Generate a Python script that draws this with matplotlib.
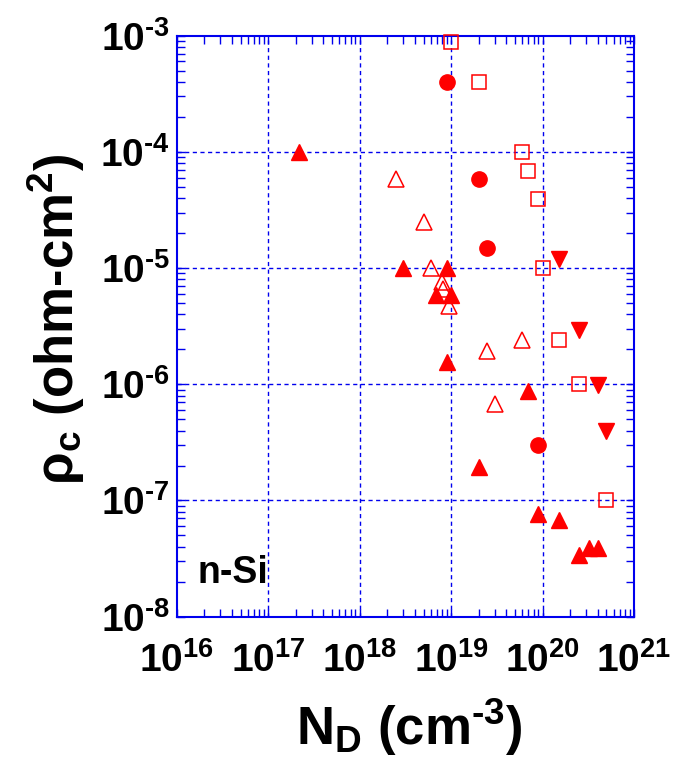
import numpy as np
import matplotlib
matplotlib.use("Agg")
import matplotlib.pyplot as plt
from matplotlib.ticker import FixedLocator, FuncFormatter

red = '#ff0000'
blue = '#0000ee'

plt.rcParams['font.family'] = ['Liberation Sans', 'DejaVu Sans']
plt.rcParams['font.weight'] = 'bold'
plt.rcParams['mathtext.fontset'] = 'custom'
plt.rcParams['mathtext.rm'] = 'Liberation Sans:bold'
plt.rcParams['mathtext.it'] = 'Liberation Sans:bold'
plt.rcParams['mathtext.bf'] = 'Liberation Sans:bold'
plt.rcParams['mathtext.sf'] = 'Liberation Sans:bold'
plt.rcParams['mathtext.default'] = 'rm'
for a in ('xtick', 'ytick'):
    plt.rcParams[a + '.direction'] = 'in'
    plt.rcParams[a + '.color'] = blue
    plt.rcParams[a + '.labelcolor'] = 'black'
    plt.rcParams[a + '.labelsize'] = 28
    plt.rcParams[a + '.major.size'] = 6
    plt.rcParams[a + '.major.width'] = 1.0
plt.rcParams['xtick.top'] = True
plt.rcParams['ytick.right'] = True
plt.rcParams['xtick.major.pad'] = 18
plt.rcParams['ytick.major.pad'] = 5

# open squares
sq_x = [1e19, 2e19, 5.9e19, 6.9e19, 9e19, 1e20, 1.5e20, 2.5e20, 5e20]
sq_y = [8.9e-4, 4e-4, 1e-4, 6.9e-5, 3.9e-5, 1e-5, 2.4e-6, 1e-6, 1e-7]

# filled circles
ci_x = [9e18, 2e19, 2.5e19, 9e19]
ci_y = [4e-4, 5.9e-5, 1.5e-5, 3e-7]

# filled up-triangles
tf_x = [2.2e17, 3e18, 9e18, 6.9e18, 9.9e18, 9e18, 7e19, 2e19, 9e19,
        1.5e20, 2.5e20, 3.2e20, 4e20]
tf_y = [1e-4, 1e-5, 1e-5, 5.9e-6, 5.9e-6, 1.57e-6, 8.7e-7, 1.95e-7, 7.6e-8,
        6.8e-8, 3.4e-8, 3.9e-8, 3.9e-8]

# open up-triangles
to_x = [2.5e18, 5e18, 6e18, 8e18, 8.2e18, 9.6e18, 2.5e19, 6e19, 3e19]
to_y = [5.9e-5, 2.5e-5, 1e-5, 7.6e-6, 6.6e-6, 4.7e-6, 1.95e-6, 2.4e-6, 6.8e-7]

# filled down-triangles
td_x = [1.5e20, 2.5e20, 4e20, 5e20]
td_y = [1.2e-5, 2.95e-6, 9.8e-7, 4e-7]

x_decades = [16, 17, 18, 19, 20, 21]
y_decades = [-8, -7, -6, -5, -4, -3]

fig = plt.figure(figsize=(6.83, 7.72), dpi=100)
ax = fig.add_axes([176.7 / 683, 1 - 616.7 / 772, (634 - 176.7) / 683, (616.7 - 35.7) / 772])

ax.set_xscale('log')
ax.set_yscale('log')
ax.set_xlim(10.0 ** x_decades[0], 10.0 ** x_decades[-1])
ax.set_ylim(10.0 ** y_decades[0], 10.0 ** y_decades[-1])


def all_ticks(decs):
    # decade ticks plus the 2..9 sub-decade ticks
    out = [10.0 ** d for d in decs]
    out += [m * 10.0 ** d for d in decs[:-1] for m in range(2, 10)]
    return sorted(out)


def fmt(v, pos):
    e = np.log10(v)
    if abs(e - round(e)) > 1e-6:
        return ''
    return r'$10^{%s}$' % str(int(round(e))).replace('-', '\u2010')


ax.xaxis.set_major_locator(FixedLocator(all_ticks(x_decades)))
ax.yaxis.set_major_locator(FixedLocator(all_ticks(y_decades)))
ax.xaxis.set_minor_locator(FixedLocator([]))
ax.yaxis.set_minor_locator(FixedLocator([]))
ax.xaxis.set_major_formatter(FuncFormatter(fmt))
ax.yaxis.set_major_formatter(FuncFormatter(fmt))

# dashed blue grid at the decades only
for d in x_decades[1:-1]:
    ax.axvline(10.0 ** d, color=blue, linestyle=(0, (3, 2.5)), linewidth=1.0, zorder=1)
for d in y_decades[1:-1]:
    ax.axhline(10.0 ** d, color=blue, linestyle=(0, (3, 2.5)), linewidth=1.0, zorder=1)

for sp in ax.spines.values():
    sp.set_color(blue)
    sp.set_linewidth(1.5)

ax.plot(tf_x, tf_y, '^', ms=11, color=red, mec=red, ls='none', clip_on=False, zorder=3)
ax.plot(to_x, to_y, '^', ms=11, mfc='none', mec=red, mew=1.1, ls='none', clip_on=False, zorder=3)
ax.plot(ci_x, ci_y, 'o', ms=11, color=red, ls='none', clip_on=False, zorder=3)
ax.plot(td_x, td_y, 'v', ms=11, color=red, ls='none', clip_on=False, zorder=3)
ax.plot(sq_x, sq_y, 's', ms=10.5, mfc='none', mec=red, mew=1.1, ls='none', clip_on=False, zorder=3)

ax.text(0.045, 0.058, 'n-Si', transform=ax.transAxes, fontsize=27,
        fontweight='bold', ha='left', va='baseline')

fig.text(409 / 683, 1 - 745 / 772, 'N$_D$ (cm$^{\u20103}$)', fontsize=38,
         fontweight='bold', ha='center', va='baseline')
fig.text(74 / 683, 1 - 319 / 772, r'$\rho_c$ (ohm-cm$^2$)', fontsize=38,
         fontweight='bold', ha='center', va='baseline', rotation=90,
         rotation_mode='anchor')

fig.savefig('out.png', dpi=100)
